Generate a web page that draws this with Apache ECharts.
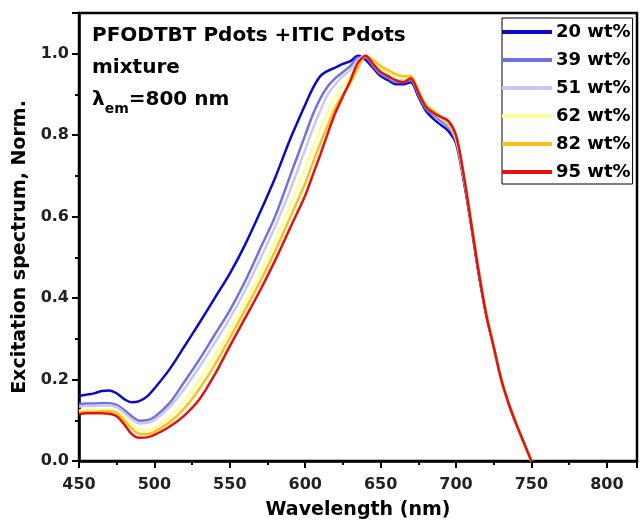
<!DOCTYPE html>
<html>
<head>
<meta charset="utf-8">
<script src="https://cdn.jsdelivr.net/npm/echarts@6/dist/echarts.min.js"></script>
<style>
  html, body { margin: 0; padding: 0; background: #fff; }
  #chart { width: 640px; height: 525px; }
</style>
</head>
<body>
<div id="chart"></div>
<script>
// wavelength grid (nm) the curves were read at
const wavelengths = [
  450, 455, 460, 465, 470, 475, 480, 485, 490, 495, 500,
  510, 520, 530, 540, 550, 560, 570, 580, 590, 600,
  605, 610, 615, 620, 625, 630, 635, 640, 645, 650, 655, 660, 665, 670, 675,
  680, 685, 690, 695, 700, 705, 710, 715, 720, 725, 730, 735, 740, 745, 750
];

const legendNames = ['20 wt%', '39 wt%', '51 wt%', '62 wt%', '82 wt%', '95 wt%'];
const lineColors = ['#0a0ac8', '#7272de', '#c8c8f2', '#ffff9a', '#f7c21a', '#e3120f'];

const wt20 = [
  0.160, 0.163, 0.166, 0.172, 0.173, 0.166, 0.152, 0.144, 0.147, 0.158, 0.178,
  0.225, 0.282, 0.340, 0.400, 0.460, 0.530, 0.610, 0.695, 0.790, 0.875,
  0.915, 0.945, 0.958, 0.966, 0.975, 0.982, 0.995, 0.985, 0.965, 0.945, 0.935, 0.925, 0.925, 0.930, 0.895,
  0.860, 0.840, 0.825, 0.810, 0.780, 0.690, 0.580, 0.460, 0.360, 0.280, 0.200, 0.140, 0.090, 0.045, 0.0
];
const wt39 = [
  0.140, 0.141, 0.141, 0.142, 0.142, 0.138, 0.125, 0.110, 0.099, 0.100, 0.108,
  0.142, 0.195, 0.250, 0.310, 0.370, 0.440, 0.520, 0.600, 0.700, 0.800,
  0.850, 0.890, 0.920, 0.940, 0.955, 0.970, 0.990, 0.990, 0.970, 0.950, 0.940, 0.930, 0.930, 0.935, 0.900,
  0.865, 0.850, 0.835, 0.820, 0.785, 0.695, 0.585, 0.465, 0.360, 0.280, 0.200, 0.140, 0.090, 0.045, 0.0
];
const wt51 = [
  0.134, 0.135, 0.135, 0.136, 0.136, 0.132, 0.118, 0.102, 0.092, 0.093, 0.100,
  0.132, 0.178, 0.232, 0.290, 0.350, 0.418, 0.495, 0.575, 0.665, 0.765,
  0.815, 0.860, 0.900, 0.925, 0.945, 0.960, 0.985, 0.995, 0.975, 0.955, 0.945, 0.935, 0.935, 0.940, 0.905,
  0.870, 0.855, 0.840, 0.825, 0.790, 0.700, 0.590, 0.470, 0.365, 0.280, 0.200, 0.140, 0.090, 0.045, 0.0
];
const wt62 = [
  0.124, 0.125, 0.125, 0.126, 0.126, 0.122, 0.108, 0.090, 0.078, 0.076, 0.082,
  0.108, 0.148, 0.200, 0.258, 0.320, 0.388, 0.460, 0.540, 0.628, 0.718,
  0.768, 0.815, 0.858, 0.895, 0.922, 0.945, 0.975, 0.995, 0.980, 0.965, 0.955, 0.945, 0.940, 0.945, 0.910,
  0.875, 0.860, 0.845, 0.830, 0.795, 0.705, 0.590, 0.470, 0.365, 0.280, 0.200, 0.140, 0.090, 0.045, 0.0
];
const wt82 = [
  0.120, 0.121, 0.121, 0.122, 0.122, 0.118, 0.100, 0.080, 0.067, 0.066, 0.072,
  0.095, 0.130, 0.178, 0.236, 0.302, 0.370, 0.440, 0.515, 0.598, 0.682,
  0.732, 0.780, 0.825, 0.868, 0.900, 0.928, 0.965, 0.995, 0.985, 0.970, 0.960, 0.950, 0.945, 0.945, 0.910,
  0.875, 0.860, 0.845, 0.830, 0.795, 0.705, 0.590, 0.470, 0.365, 0.280, 0.200, 0.140, 0.090, 0.045, 0.0
];
const wt95 = [
  0.115, 0.117, 0.117, 0.117, 0.116, 0.110, 0.090, 0.066, 0.057, 0.058, 0.064,
  0.084, 0.112, 0.152, 0.212, 0.282, 0.350, 0.418, 0.492, 0.572, 0.652,
  0.702, 0.752, 0.805, 0.855, 0.895, 0.935, 0.978, 0.995, 0.975, 0.955, 0.945, 0.935, 0.930, 0.940, 0.905,
  0.870, 0.855, 0.845, 0.835, 0.800, 0.705, 0.585, 0.465, 0.360, 0.280, 0.200, 0.140, 0.090, 0.045, 0.0
];
const seriesValues = [wt20, wt39, wt51, wt62, wt82, wt95];

const font = 'DejaVu Sans';

const chart = echarts.init(document.getElementById('chart'), null, { renderer: 'canvas' });

const option = {
  animation: false,
  backgroundColor: '#fff',
  title: {
    left: 92,
    top: 20,
    padding: 0,
    text: '{a|PFODTBT Pdots +ITIC Pdots}\n{a|mixture}\n{a|λ}{s|em}{a|=800 nm}',
    textStyle: {
      rich: {
        a: { fontFamily: font, fontWeight: 'bold', fontSize: 20, color: '#000', lineHeight: 32 },
        s: { fontFamily: font, fontSize: 14, color: '#000', lineHeight: 20, verticalAlign: 'bottom' }
      }
    }
  },
  legend: {
    orient: 'vertical',
    left: 502,
    top: 18,
    padding: [4, 2, 2, 0],
    icon: 'rect',
    itemWidth: 50,
    itemHeight: 4,
    itemGap: 8,
    borderColor: '#000',
    borderWidth: 1,
    backgroundColor: '#fff',
    data: legendNames,
    textStyle: { fontFamily: font, fontWeight: 'bold', fontSize: 18, color: '#000', lineHeight: 20, padding: [0, 0, 0, -1] }
  },
  grid: {
    left: 79,
    right: 3,
    top: 13,
    bottom: 61,
    show: true,
    borderColor: '#000',
    borderWidth: 2.5
  },
  xAxis: {
    type: 'value',
    min: 450,
    max: 820,
    interval: 50,
    name: 'Wavelength (nm)',
    nameLocation: 'middle',
    nameGap: 40,
    nameTextStyle: { fontFamily: font, fontWeight: 'bold', fontSize: 19, color: '#000' },
    axisLine: { lineStyle: { color: '#000', width: 2.5 } },
    axisTick: { inside: false, length: 7, lineStyle: { color: '#000', width: 2 } },
    minorTick: { show: true, splitNumber: 2, length: 4, lineStyle: { color: '#000', width: 2 } },
    axisLabel: { fontFamily: font, fontWeight: 'bold', fontSize: 16, color: '#222', margin: 16, showMaxLabel: false },
    splitLine: { show: false }
  },
  yAxis: {
    type: 'value',
    min: 0,
    max: 1.1,
    interval: 0.2,
    name: 'Excitation spectrum, Norm.',
    nameLocation: 'middle',
    nameGap: 45,
    nameTextStyle: { fontFamily: font, fontWeight: 'bold', fontSize: 19, color: '#000', padding: [0, 20, 0, 0] },
    axisLine: { lineStyle: { color: '#000', width: 2.5 } },
    axisTick: { inside: false, length: 7, lineStyle: { color: '#000', width: 2 } },
    minorTick: { show: true, splitNumber: 2, length: 4, lineStyle: { color: '#000', width: 2 } },
    axisLabel: {
      fontFamily: font, fontWeight: 'bold', fontSize: 16, color: '#222', margin: 10, showMaxLabel: false,
      formatter: v => v.toFixed(1)
    },
    splitLine: { show: false }
  },
  series: legendNames.map((name, k) => ({
    name: name,
    type: 'line',
    symbol: 'none',
    smooth: 0.3,
    color: lineColors[k],
    lineStyle: { width: 2.5, color: lineColors[k] },
    data: wavelengths.map((w, i) => [w, seriesValues[k][i]])
  }))
};

chart.setOption(option);
</script>
</body>
</html>
